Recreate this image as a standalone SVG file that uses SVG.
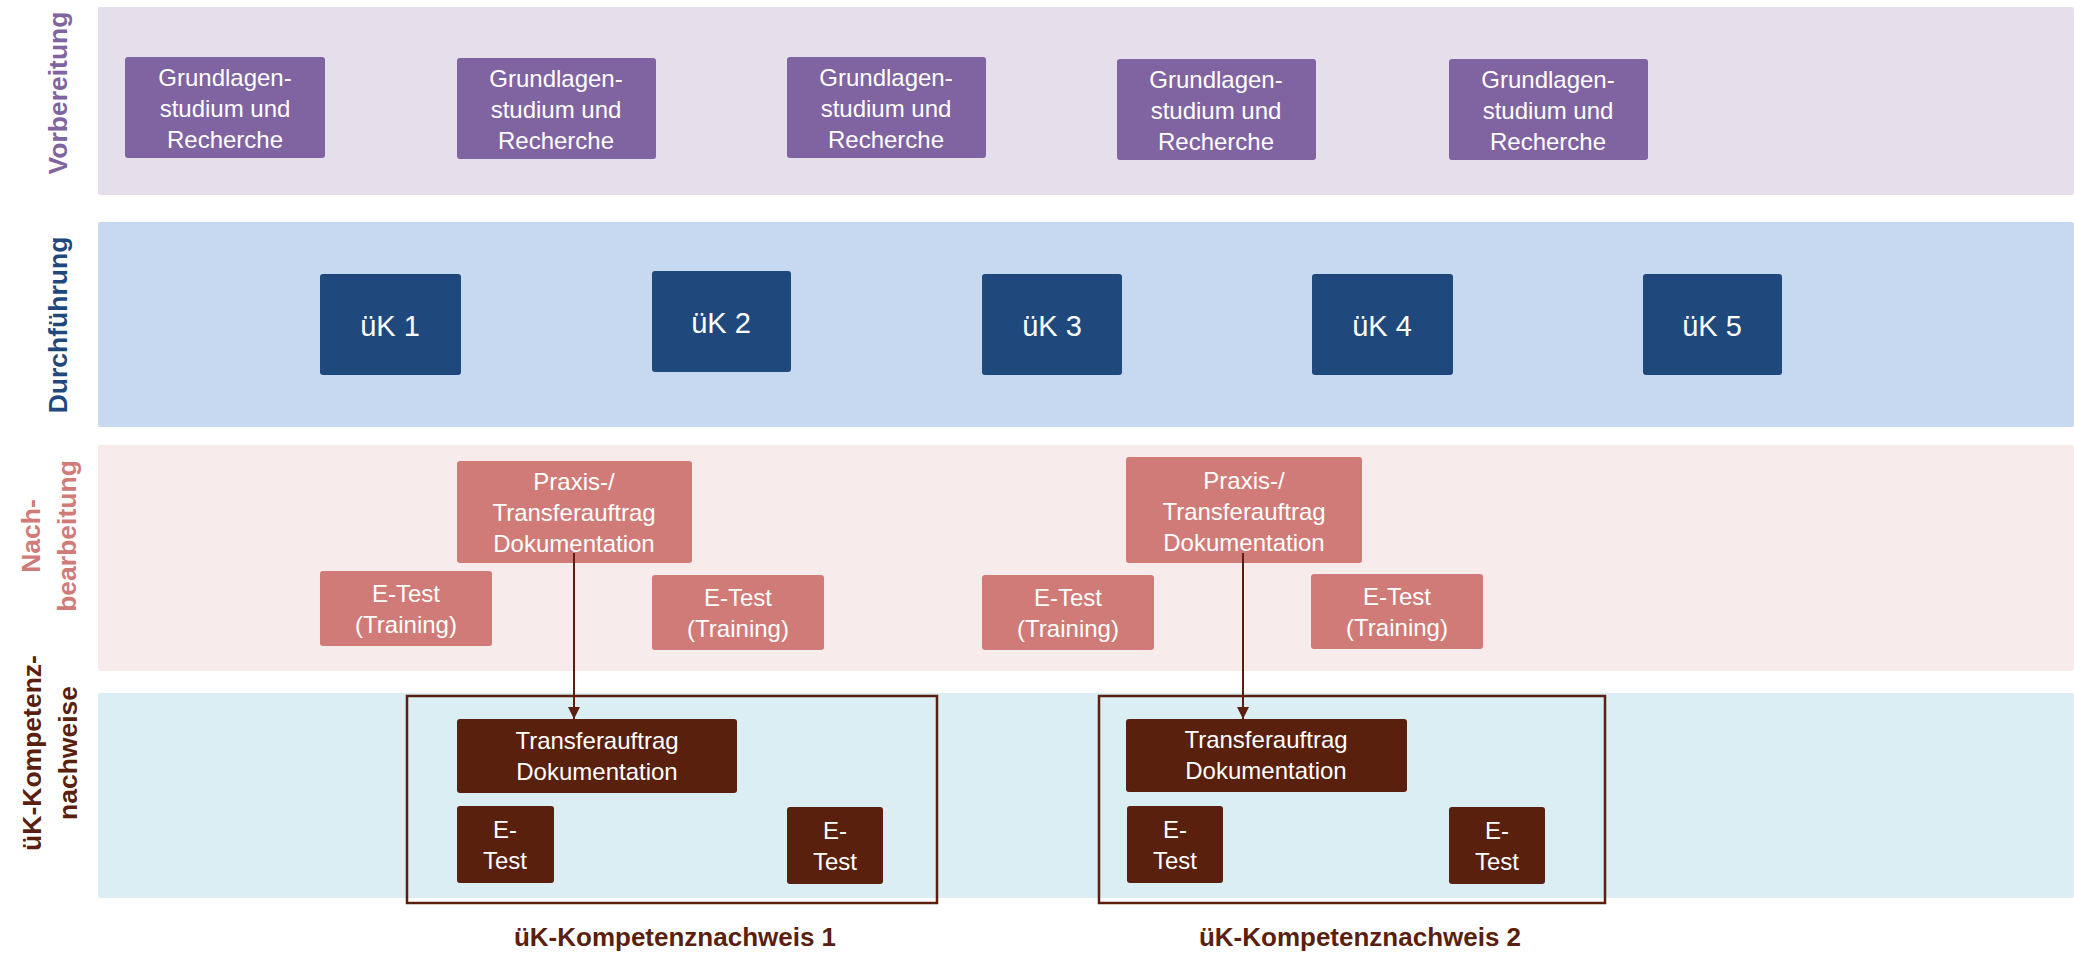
<svg xmlns="http://www.w3.org/2000/svg" width="2074" height="957" viewBox="0 0 2074 957">
<style>
.lane{stroke:none}
.t{font-family:"Liberation Sans",Arial,sans-serif;font-size:24px;fill:#ffffff;text-anchor:middle}
.uk{font-family:"Liberation Sans",Arial,sans-serif;font-size:29px;fill:#ffffff;text-anchor:middle}
.lbl{font-family:"Liberation Sans",Arial,sans-serif;font-size:26.5px;font-weight:bold;text-anchor:middle}
.foot{font-family:"Liberation Sans",Arial,sans-serif;font-size:26px;font-weight:bold;fill:#5A1F0E;text-anchor:middle}
.pur{fill:#8064A2}
.blu{fill:#1F497D}
.pnk{fill:#D07B77}
.brn{fill:#58200D}
.frame{fill:none;stroke:#5A1F0E;stroke-width:2.5}
.conn{fill:none;stroke:#5A1F0E;stroke-width:2}
</style>
<defs>
<marker id="ah" markerUnits="userSpaceOnUse" markerWidth="12" markerHeight="12" refX="12" refY="6" orient="auto">
<path d="M0,0 L12,6 L0,12 z" fill="#5A1F0E"/>
</marker>
</defs>
<rect width="2074" height="957" fill="#ffffff"/>
<g id="lanes">
<rect class="lane" x="98" y="7" width="1976" height="188" fill="#E5DFEC" rx="2"/>
<rect class="lane" x="98" y="222" width="1976" height="205" fill="#C6D9F0" rx="2"/>
<rect class="lane" x="98" y="445" width="1976" height="226" fill="#F8EBEB" rx="2"/>
<rect class="lane" x="98" y="693" width="1976" height="205" fill="#DBEEF3" rx="2"/>
</g>
<g id="lane-labels">
<text class="lbl" fill="#8064A2" transform="translate(67,93) rotate(-90)">Vorbereitung</text>
<text class="lbl" fill="#1F497D" transform="translate(67,325) rotate(-90)">Durchführung</text>
<text class="lbl" fill="#D07B77" transform="translate(40,536) rotate(-90)"><tspan x="0" y="0">Nach-</tspan><tspan x="0" y="36">bearbeitung</tspan></text>
<text class="lbl" fill="#5A1F0E" transform="translate(41,753) rotate(-90)"><tspan x="0" y="0">üK-Kompetenz-</tspan><tspan x="0" y="36">nachweise</tspan></text>
</g>
<g id="frames">
<rect id="frame1" class="frame" x="407" y="696" width="530" height="207"/>
<rect id="frame2" class="frame" x="1099" y="696" width="506" height="207"/>
</g>
<g id="g1"><rect class="pur" x="125" y="57" width="200" height="101" rx="3"/><text class="t"><tspan x="225" y="86">Grundlagen-</tspan><tspan x="225" y="117">studium und</tspan><tspan x="225" y="148">Recherche</tspan></text></g>
<g id="g2"><rect class="pur" x="457" y="58" width="199" height="101" rx="3"/><text class="t"><tspan x="556" y="87">Grundlagen-</tspan><tspan x="556" y="118">studium und</tspan><tspan x="556" y="149">Recherche</tspan></text></g>
<g id="g3"><rect class="pur" x="787" y="57" width="199" height="101" rx="3"/><text class="t"><tspan x="886" y="86">Grundlagen-</tspan><tspan x="886" y="117">studium und</tspan><tspan x="886" y="148">Recherche</tspan></text></g>
<g id="g4"><rect class="pur" x="1117" y="59" width="199" height="101" rx="3"/><text class="t"><tspan x="1216" y="88">Grundlagen-</tspan><tspan x="1216" y="119">studium und</tspan><tspan x="1216" y="150">Recherche</tspan></text></g>
<g id="g5"><rect class="pur" x="1449" y="59" width="199" height="101" rx="3"/><text class="t"><tspan x="1548" y="88">Grundlagen-</tspan><tspan x="1548" y="119">studium und</tspan><tspan x="1548" y="150">Recherche</tspan></text></g>
<g id="uk1"><rect class="blu" x="320" y="274" width="141" height="101" rx="3"/><text class="uk" x="390" y="336">üK 1</text></g>
<g id="uk2"><rect class="blu" x="652" y="271" width="139" height="101" rx="3"/><text class="uk" x="721" y="333">üK 2</text></g>
<g id="uk3"><rect class="blu" x="982" y="274" width="140" height="101" rx="3"/><text class="uk" x="1052" y="336">üK 3</text></g>
<g id="uk4"><rect class="blu" x="1312" y="274" width="141" height="101" rx="3"/><text class="uk" x="1382" y="336">üK 4</text></g>
<g id="uk5"><rect class="blu" x="1643" y="274" width="139" height="101" rx="3"/><text class="uk" x="1712" y="336">üK 5</text></g>
<g id="px1"><rect class="pnk" x="457" y="461" width="235" height="102" rx="3"/><text class="t"><tspan x="574" y="490">Praxis-/</tspan><tspan x="574" y="521">Transferauftrag</tspan><tspan x="574" y="552">Dokumentation</tspan></text></g>
<g id="px2"><rect class="pnk" x="1126" y="457" width="236" height="106" rx="3"/><text class="t"><tspan x="1244" y="489">Praxis-/</tspan><tspan x="1244" y="520">Transferauftrag</tspan><tspan x="1244" y="551">Dokumentation</tspan></text></g>
<g id="et1"><rect class="pnk" x="320" y="571" width="172" height="75" rx="3"/><text class="t"><tspan x="406" y="602">E-Test</tspan><tspan x="406" y="633">(Training)</tspan></text></g>
<g id="et2"><rect class="pnk" x="652" y="575" width="172" height="75" rx="3"/><text class="t"><tspan x="738" y="606">E-Test</tspan><tspan x="738" y="637">(Training)</tspan></text></g>
<g id="et3"><rect class="pnk" x="982" y="575" width="172" height="75" rx="3"/><text class="t"><tspan x="1068" y="606">E-Test</tspan><tspan x="1068" y="637">(Training)</tspan></text></g>
<g id="et4"><rect class="pnk" x="1311" y="574" width="172" height="75" rx="3"/><text class="t"><tspan x="1397" y="605">E-Test</tspan><tspan x="1397" y="636">(Training)</tspan></text></g>
<g id="tr1"><rect class="brn" x="457" y="719" width="280" height="74" rx="3"/><text class="t"><tspan x="597" y="749">Transferauftrag</tspan><tspan x="597" y="780">Dokumentation</tspan></text></g>
<g id="tr2"><rect class="brn" x="1126" y="719" width="281" height="73" rx="3"/><text class="t"><tspan x="1266" y="748">Transferauftrag</tspan><tspan x="1266" y="779">Dokumentation</tspan></text></g>
<g id="ed1"><rect class="brn" x="457" y="806" width="97" height="77" rx="3"/><text class="t"><tspan x="505" y="838">E-</tspan><tspan x="505" y="869">Test</tspan></text></g>
<g id="ed2"><rect class="brn" x="787" y="807" width="96" height="77" rx="3"/><text class="t"><tspan x="835" y="839">E-</tspan><tspan x="835" y="870">Test</tspan></text></g>
<g id="ed3"><rect class="brn" x="1127" y="806" width="96" height="77" rx="3"/><text class="t"><tspan x="1175" y="838">E-</tspan><tspan x="1175" y="869">Test</tspan></text></g>
<g id="ed4"><rect class="brn" x="1449" y="807" width="96" height="77" rx="3"/><text class="t"><tspan x="1497" y="839">E-</tspan><tspan x="1497" y="870">Test</tspan></text></g>
<g id="connectors">
<path class="conn" d="M574 553 V719" marker-end="url(#ah)"/>
<path class="conn" d="M1243 553 V719" marker-end="url(#ah)"/>
</g>
<g id="footers">
<text class="foot" x="675" y="946">üK-Kompetenznachweis 1</text>
<text class="foot" x="1360" y="946">üK-Kompetenznachweis 2</text>
</g>
</svg>
